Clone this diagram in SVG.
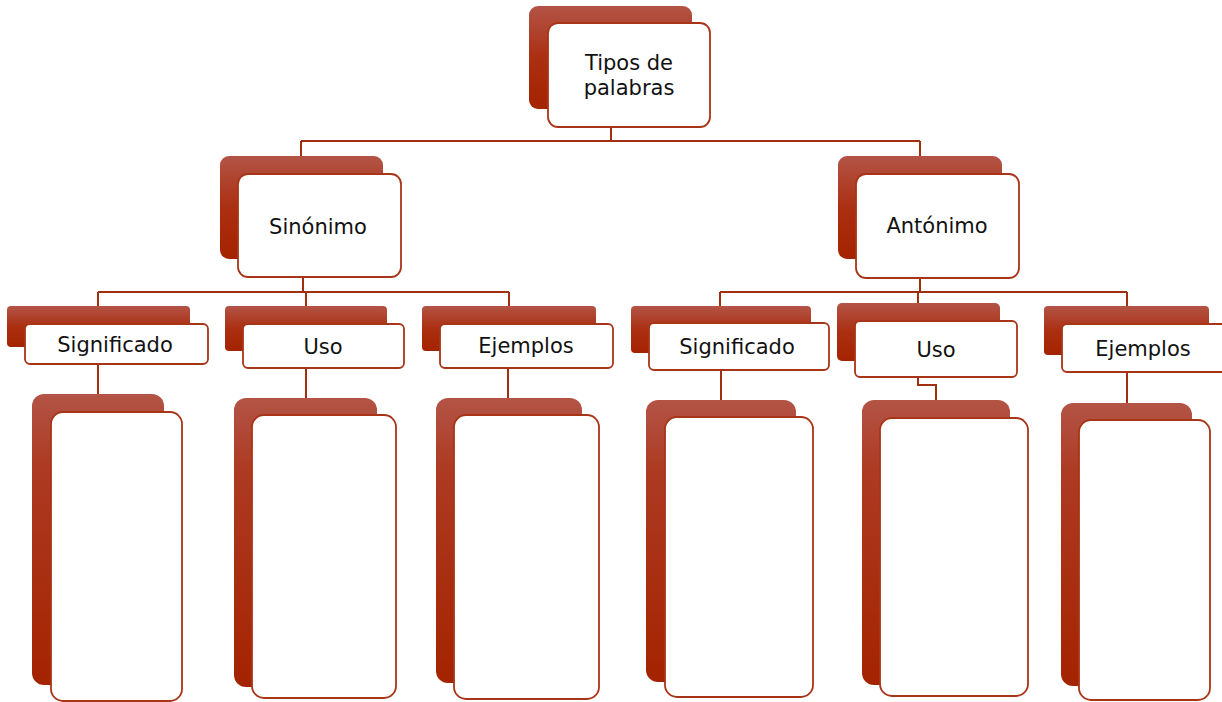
<svg xmlns="http://www.w3.org/2000/svg" width="1222" height="702" viewBox="0 0 1222 702">
<defs>
<linearGradient id="bg" x1="0" y1="0" x2="0" y2="1">
<stop offset="0" stop-color="#B35446"/>
<stop offset="0.5" stop-color="#AB2F12"/>
<stop offset="1" stop-color="#A42300"/>
</linearGradient>
<linearGradient id="bgt" x1="0" y1="0" x2="0" y2="1">
<stop offset="0" stop-color="#B35446"/>
<stop offset="0.25" stop-color="#AD3A22"/>
<stop offset="1" stop-color="#A42300"/>
</linearGradient>
</defs>
<style>
.back{fill:url(#bg);}
.backt{fill:url(#bgt);}
.front{fill:#ffffff;stroke:#A83518;stroke-width:1.8;}
.lbl{font-family:"DejaVu Sans","Verdana",sans-serif;font-size:21px;fill:#111111;text-anchor:middle;}
.conn{fill:none;stroke:#A0300F;stroke-width:2;}
</style>
<g id="connectors">
<path class="conn" d="M611 127 V141 M301 141 H920 M301 141 V157 M920 141 V157"/>
<path class="conn" d="M303 277 V292 M98 292 H509 M98 292 V307 M306 292 V307 M509 292 V307"/>
<path class="conn" d="M920 278 V292 M720 292 H1127 M720 292 V307 M918 292 V304 M1127 292 V307"/>
<path class="conn" d="M98 364 V395 M306 368 V398 M508 368 V398 M721 370 V401 M918 377 V385 H936 V401 M1127 372 V404"/>
</g>
<g id="n-tipos">
<rect class="back" x="529" y="6" width="163" height="103" rx="9"/>
<rect class="front" x="548" y="23" width="162" height="104" rx="10"/>
<text class="lbl" x="629" y="70">Tipos de</text>
<text class="lbl" x="629" y="95">palabras</text>
</g>
<g id="n-sinonimo">
<rect class="back" x="220" y="156" width="163" height="103" rx="9"/>
<rect class="front" x="238" y="174" width="163" height="103" rx="10"/>
<text class="lbl" x="318" y="234">Sinónimo</text>
</g>
<g id="n-antonimo">
<rect class="back" x="838" y="156" width="164" height="103" rx="9"/>
<rect class="front" x="856" y="174" width="163" height="104" rx="10"/>
<text class="lbl" x="937" y="233">Antónimo</text>
</g>
<g id="n-sig1">
<rect class="back" x="7" y="306" width="183" height="41" rx="4"/>
<rect class="front" x="25" y="324" width="183" height="40" rx="5"/>
<text class="lbl" x="115" y="352">Significado</text>
</g>
<g id="n-uso1">
<rect class="back" x="225" y="306" width="162" height="45" rx="4"/>
<rect class="front" x="243" y="324" width="161" height="44" rx="5"/>
<text class="lbl" x="323" y="354">Uso</text>
</g>
<g id="n-ej1">
<rect class="back" x="422" y="306" width="174" height="45" rx="4"/>
<rect class="front" x="440" y="324" width="173" height="44" rx="5"/>
<text class="lbl" x="526" y="353">Ejemplos</text>
</g>
<g id="n-sig2">
<rect class="back" x="631" y="306" width="180" height="47" rx="4"/>
<rect class="front" x="649" y="323" width="180" height="47" rx="5"/>
<text class="lbl" x="737" y="354">Significado</text>
</g>
<g id="n-uso2">
<rect class="back" x="837" y="303" width="163" height="58" rx="5"/>
<rect class="front" x="855" y="321" width="162" height="56" rx="5"/>
<text class="lbl" x="936" y="357">Uso</text>
</g>
<g id="n-ej2">
<rect class="back" x="1044" y="306" width="165" height="49" rx="4"/>
<rect class="front" x="1062" y="324" width="170" height="48" rx="5"/>
<text class="lbl" x="1143" y="356">Ejemplos</text>
</g>
<g id="n-box1">
<rect class="backt" x="32" y="394" width="132" height="291" rx="12"/>
<rect class="front" x="51" y="412" width="131" height="289" rx="12"/>
</g>
<g id="n-box2">
<rect class="backt" x="234" y="398" width="143" height="289" rx="12"/>
<rect class="front" x="252" y="415" width="144" height="283" rx="12"/>
</g>
<g id="n-box3">
<rect class="backt" x="436" y="398" width="146" height="285" rx="12"/>
<rect class="front" x="454" y="415" width="145" height="284" rx="12"/>
</g>
<g id="n-box4">
<rect class="backt" x="646" y="400" width="150" height="282" rx="12"/>
<rect class="front" x="665" y="417" width="148" height="280" rx="12"/>
</g>
<g id="n-box5">
<rect class="backt" x="862" y="400" width="148" height="285" rx="12"/>
<rect class="front" x="880" y="418" width="148" height="278" rx="12"/>
</g>
<g id="n-box6">
<rect class="backt" x="1061" y="403" width="131" height="283" rx="12"/>
<rect class="front" x="1079" y="420" width="131" height="280" rx="12"/>
</g>
</svg>
